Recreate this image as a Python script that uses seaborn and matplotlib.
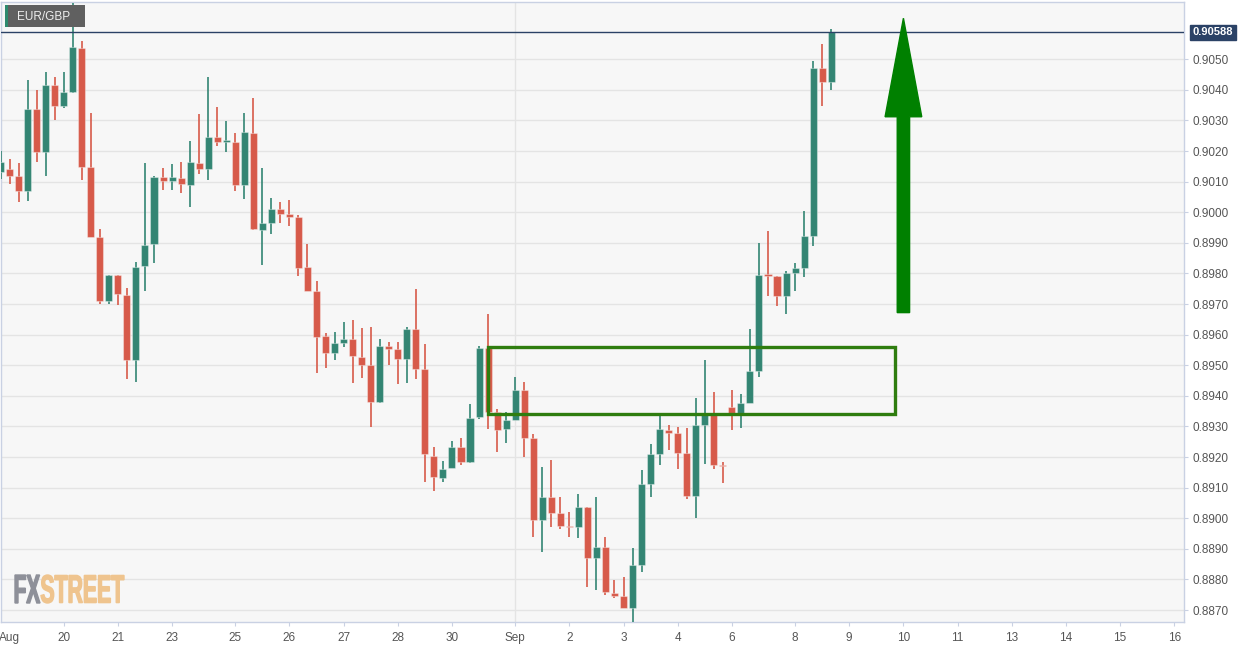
import numpy as np
import matplotlib
matplotlib.use("Agg")
import matplotlib.pyplot as plt
import seaborn as sns
from matplotlib.patches import Rectangle, FancyArrow, PathPatch
from matplotlib.textpath import TextPath
from matplotlib.font_manager import FontProperties
from matplotlib.transforms import Affine2D, IdentityTransform

# EUR/GBP 4H candles
opens = [0.90133, 0.90141, 0.90120, 0.90069, 0.90337, 0.90197, 0.90416, 0.90346, 0.90392, 0.90537,
         0.90149, 0.89918, 0.89711, 0.89795, 0.89731, 0.89517, 0.89825, 0.89896, 0.90115, 0.90102,
         0.90111, 0.90089, 0.90160, 0.90141, 0.90247, 0.90231, 0.90231, 0.90089, 0.90258, 0.89942,
         0.89966, 0.90010, 0.89994, 0.89985, 0.89820, 0.89744, 0.89595, 0.89539, 0.89574, 0.89585,
         0.89526, 0.89501, 0.89379, 0.89564, 0.89553, 0.89522, 0.89619, 0.89487, 0.89205, 0.89131,
         0.89165, 0.89234, 0.89183, 0.89332, 0.89556, 0.89346, 0.89292, 0.89321, 0.89418, 0.89261,
         0.88994, 0.89071, 0.89016, 0.88976, 0.88973, 0.89038, 0.88869, 0.88907, 0.88755, 0.88747,
         0.88708, 0.88847, 0.89111, 0.89210, 0.89289, 0.89278, 0.89212, 0.89073, 0.89305, 0.89341,
         0.89173, 0.89363, 0.89343, 0.89378, 0.89481, 0.89795, 0.89792, 0.89726, 0.89801, 0.89817,
         0.89923, 0.90471, 0.90427]
highs = [0.90200, 0.90173, 0.90160, 0.90432, 0.90400, 0.90458, 0.90441, 0.90458, 0.90683, 0.90560,
         0.90324, 0.89944, 0.89795, 0.89795, 0.89752, 0.89839, 0.90160, 0.90119, 0.90144, 0.90157,
         0.90163, 0.90232, 0.90320, 0.90441, 0.90343, 0.90297, 0.90258, 0.90324, 0.90373, 0.90144,
         0.90046, 0.90035, 0.90040, 0.89990, 0.89896, 0.89775, 0.89605, 0.89608, 0.89641, 0.89648,
         0.89621, 0.89624, 0.89585, 0.89577, 0.89577, 0.89626, 0.89748, 0.89569, 0.89234, 0.89187,
         0.89253, 0.89261, 0.89374, 0.89564, 0.89667, 0.89356, 0.89348, 0.89463, 0.89444, 0.89275,
         0.89167, 0.89190, 0.89071, 0.89022, 0.89078, 0.89038, 0.89071, 0.88939, 0.88798, 0.88807,
         0.88902, 0.89158, 0.89243, 0.89334, 0.89304, 0.89299, 0.89294, 0.89392, 0.89517, 0.89412,
         0.89183, 0.89419, 0.89406, 0.89618, 0.89899, 0.89939, 0.89793, 0.89809, 0.89833, 0.90005,
         0.90494, 0.90549, 0.90598]
lows = [0.90110, 0.90092, 0.90035, 0.90038, 0.90163, 0.90119, 0.90301, 0.90339, 0.90390, 0.90105,
        0.89918, 0.89700, 0.89700, 0.89697, 0.89455, 0.89444, 0.89743, 0.89833, 0.90072, 0.90072,
        0.90062, 0.90018, 0.90124, 0.90105, 0.90218, 0.90196, 0.90071, 0.90044, 0.89942, 0.89828,
        0.89929, 0.89964, 0.89956, 0.89793, 0.89741, 0.89474, 0.89490, 0.89517, 0.89561, 0.89441,
        0.89458, 0.89297, 0.89376, 0.89501, 0.89439, 0.89441, 0.89455, 0.89118, 0.89089, 0.89120,
        0.89164, 0.89174, 0.89180, 0.89324, 0.89291, 0.89218, 0.89247, 0.89320, 0.89201, 0.88938,
        0.88889, 0.88971, 0.88964, 0.88939, 0.88935, 0.88775, 0.88766, 0.88749, 0.88739, 0.88708,
        0.88650, 0.88826, 0.89069, 0.89174, 0.89223, 0.89161, 0.89062, 0.89000, 0.89176, 0.89160,
        0.89116, 0.89289, 0.89294, 0.89376, 0.89461, 0.89727, 0.89694, 0.89668, 0.89743, 0.89790,
        0.89891, 0.90348, 0.90400]
closes = [0.90163, 0.90120, 0.90071, 0.90337, 0.90197, 0.90416, 0.90346, 0.90392, 0.90539, 0.90149,
          0.89918, 0.89711, 0.89795, 0.89733, 0.89517, 0.89822, 0.89893, 0.90115, 0.90102, 0.90115,
          0.90092, 0.90163, 0.90141, 0.90247, 0.90231, 0.90235, 0.90089, 0.90262, 0.89944, 0.89964,
          0.90010, 0.89994, 0.89986, 0.89819, 0.89744, 0.89592, 0.89539, 0.89572, 0.89585, 0.89530,
          0.89501, 0.89379, 0.89563, 0.89553, 0.89522, 0.89619, 0.89488, 0.89209, 0.89134, 0.89161,
          0.89234, 0.89183, 0.89329, 0.89556, 0.89348, 0.89288, 0.89321, 0.89418, 0.89261, 0.88994,
          0.89071, 0.89016, 0.88976, 0.88971, 0.89038, 0.88869, 0.88907, 0.88758, 0.88747, 0.88708,
          0.88847, 0.89111, 0.89209, 0.89291, 0.89280, 0.89212, 0.89073, 0.89305, 0.89341, 0.89173,
          0.89170, 0.89343, 0.89378, 0.89481, 0.89795, 0.89793, 0.89726, 0.89803, 0.89817, 0.89923,
          0.90471, 0.90427, 0.90588]

# x axis labels (candle index -> date label)
tick_pos = [1, 7, 13, 19, 26, 32, 38, 44, 50, 57, 63, 69, 75, 81, 88, 94, 100, 106, 112, 118, 124, 130]
tick_labels = ["Aug", "20", "21", "23", "25", "26", "27", "28", "30", "Sep", "2", "3", "4", "6",
               "8", "9", "10", "11", "13", "14", "15", "16"]
price_ticks = [round(0.8870 + 0.001 * k, 4) for k in range(19)]
last_price = 0.90588

# annotations drawn on the chart
zone_left, zone_right = 54.0, 99.1
zone_low, zone_high = 0.89340, 0.89561
arrow_x, arrow_base, arrow_tip = 100.0, 0.89672, 0.90634

GREEN = "#338573"
RED = "#d75a4a"
BG = "#f7f7f7"
GRID = "#e4e4e4"
BORDER = "#c9d1e3"
TEXT = "#555555"

sns.set_theme(style="white")
plt.rcParams["font.family"] = ["Liberation Sans", "DejaVu Sans"]

W, H = 1255, 648
fig = plt.figure(figsize=(W / 100, H / 100), dpi=100)
fig.patch.set_facecolor("white")
ax = fig.add_axes([0.5 / W, 26 / H, 1183.5 / W, 620 / H])
ax.set_facecolor(BG)

x = np.arange(len(opens))
o = np.array(opens)
c = np.array(closes)
up = c >= o
colors = np.where(up, GREEN, RED)

# wicks
ax.vlines(x, lows, highs, colors=colors, linewidth=1.2, zorder=3)
# bodies
body_low = np.minimum(o, c)
body_h = np.maximum(np.abs(c - o), 0.00004)
ax.bar(x, body_h, bottom=body_low, width=0.78, color=colors,
       edgecolor=[(1, 1, 1, 0.35)] * len(x), linewidth=0.8, zorder=4)

ax.set_xlim(0, 1184 / 9.033)
ax.set_ylim(0.88661, 0.90687)

# grid
for p in price_ticks:
    ax.axhline(p, color=GRID, lw=1, zorder=1)
ax.axvline(57, color=GRID, lw=1, zorder=1)

# current price line + label
ax.axhline(last_price, color="#2b4266", lw=1, zorder=5)
ax.annotate(f"{last_price:.5f}", xy=(1.0, last_price),
            xycoords=ax.get_yaxis_transform(), xytext=(6, 0), textcoords="offset points",
            ha="left", va="center", fontsize=8, fontweight="bold", color="white",
            bbox=dict(boxstyle="square,pad=0.25", fc="#2b4266", ec="#2b4266"),
            annotation_clip=False, zorder=6)

# support zone and arrow
ax.add_patch(Rectangle((zone_left, zone_low), zone_right - zone_left, zone_high - zone_low,
                       fill=False, edgecolor="#2f7d0f", lw=2.4, zorder=6))
ax.add_patch(FancyArrow(arrow_x, arrow_base, 0, arrow_tip - arrow_base, width=1.37,
                        head_width=4.06, head_length=0.00322, length_includes_head=True,
                        color="#008000", zorder=6))

# axes styling
ax.yaxis.tick_right()
ax.set_yticks(price_ticks)
ax.set_yticklabels([f"{p:.4f}" for p in price_ticks])
ax.set_xticks(tick_pos)
ax.set_xticklabels(tick_labels)
ax.tick_params(axis="y", right=True, left=False, length=3, width=0.8, color=BORDER,
               labelsize=8.5, labelcolor=TEXT, pad=3)
ax.tick_params(axis="x", bottom=True, length=3, width=0.8, color=BORDER,
               labelsize=8.5, labelcolor=TEXT, pad=4)
ax.xaxis.get_major_ticks()[0].tick1line.set_visible(False)
for s in ax.spines.values():
    s.set_color(BORDER)
    s.set_linewidth(1)
ax.grid(False)

# title box
fig.patches.append(Rectangle((5 / W, 1 - 27 / H), 80 / W, 22 / H, transform=fig.transFigure,
                             facecolor="#606060", edgecolor="none", zorder=10))
fig.patches.append(Rectangle((5 / W, 1 - 27 / H), 3 / W, 22 / H, transform=fig.transFigure,
                             facecolor="#2e8a6e", edgecolor="none", zorder=11))
fig.text(17 / W, 1 - 16.5 / H, "EUR/GBP", fontsize=8.5, color="#eeeeee", va="center",
         ha="left", zorder=12)

# FXSTREET watermark, squeezed into its box
fp = FontProperties(family=["Liberation Sans Narrow", "Liberation Sans"], weight="bold")
for word, col, (x0, x1) in [("FX", "#8e9099", (15, 40)), ("STREET", "#efc48e", (41, 124))]:
    tp = TextPath((0, 0), word, size=10, prop=fp)
    ext = tp.get_extents()
    sx = (x1 - x0) / ext.width
    sy = 28 / ext.height
    tr = Affine2D().translate(-ext.x0, -ext.y0).scale(sx, sy).translate(x0, H - 603)
    fig.add_artist(PathPatch(tr.transform_path(tp), transform=IdentityTransform(),
                             facecolor=col, edgecolor=col, linewidth=1.0, zorder=2))

fig.savefig("out.png", dpi=100, facecolor="white")
